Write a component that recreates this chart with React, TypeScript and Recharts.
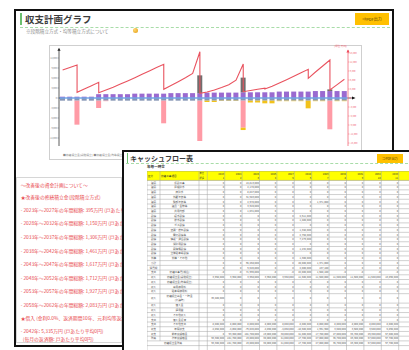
import React from "react"
import { ComposedChart, Bar, Line, XAxis, YAxis, ReferenceLine } from "recharts"

const FONT = '"Noto Sans CJK JP", "Noto Sans", sans-serif'

/* 計画期間 2023〜2062 */
const years = [
  "2023", "2024", "2025", "2026", "2027", "2028", "2029", "2030", "2031", "2032",
  "2033", "2034", "2035", "2036", "2037", "2038", "2039", "2040", "2041", "2042",
  "2043", "2044", "2045", "2046", "2047", "2048", "2049", "2050", "2051", "2052",
  "2053", "2054", "2055", "2056", "2057", "2058", "2059", "2060", "2061", "2062",
]

/* 単位: 万円 */
const reserveIncome = [
  395, 395, 395, 395, 395, 1150, 1150, 1150, 1150, 1150,
  1306, 1306, 1306, 1306, 1306, 1461, 1461, 1461, 1461, 1461,
  1617, 1617, 1617, 1617, 1617, 1712, 1712, 1712, 1712, 1712,
  1927, 1927, 1927, 1927, 1927, 2083, 2083, 2083, 2083, 2083,
]
const loanIncome = [
  0, 0, 0, 0, 0, 0, 0, 0, 0, 0,
  0, 0, 0, 0, 0, 0, 0, 0, 0, 5335,
  0, 0, 0, 0, 0, 4400, 0, 0, 0, 0,
  0, 0, 0, 0, 0, 0, 0, 500, 0, 0,
]
const upkeepCost = [
  -800, -800, -800, -800, -800, -800, -800, -800, -800, -800,
  -800, -800, -800, -800, -800, -800, -800, -800, -800, -800,
  -800, -800, -800, -800, -800, -800, -800, -800, -800, -800,
  -800, -800, -800, -800, -800, -800, -800, -800, -800, -800,
]
const repairCost = [
  0, 0, -7199.5, 0, 0, -2200, -150.81, 0, 0, 0,
  0, 0, 0, 0, -6790, 0, 0, 0, 0, -12100,
  0, 0, 0, 0, 0, -8110, 0, 0, 0, 0,
  0, 0, 0, 0, 0, 0, 0, -8590, 0, 0,
]
const extraCost = [
  0, 0, 0, 0, 0, 0, 0, 0, 0, 0,
  0, 0, 0, 0, 0, 0, 0, 0, 0, 0,
  -400, -400, -100, -100, -100, -700, -550, -550, -800, -800,
  -150, -150, -150, -150, -2300, -150, -150, 0, -150, -150,
]

/* 残高: 年度末と、工事費支出前の山 */
const yearEndBalance = [
  9330, 10170, 1900, 3000, 4100, 1770, 2700, 3570, 4630, 5700,
  6770, 7900, 9000, 10130, 2900, 4170, 5430, 6730, 8170, 1570,
  2000, 2670, 3500, 4430, 5930, 2100, 2500, 2930, 3000, 3900,
  5000, 6100, 7230, 8400, 6570, 8670, 10670, 2670, 4470, 6230,
]
const peakBalance: (number | null)[] = [
  null, null, 11000, null, null, 5230, null, null, null, null,
  null, null, null, null, 11230, null, null, null, null, 15430,
  null, null, null, null, null, 11330, null, null, 3300, null,
  null, null, null, null, 9570, null, null, 12670, null, null,
]

const leftTicks = [-12000, -9000, -6000, -3000, 0, 3000, 6000, 9000, 12000]
const rightTicks = [-15000, -12000, -9000, -6000, -3000, 0, 3000, 6000, 9000, 12000, 15000]

const fmt = (n: number) => Math.round(n).toLocaleString("en-US")
const yen = (man: number) => fmt(man * 10000)

const chartData = years.map((year, i) => ({
  year,
  reserve: reserveIncome[i],
  loan: loanIncome[i],
  upkeep: upkeepCost[i],
  repair: repairCost[i],
  extra: extraCost[i],
}))

// 支出のある年は同じ x に2点置いて縦に落とす
const balanceData = years.flatMap((_, i) => {
  const peak = peakBalance[i]
  const end = { t: i, bal: yearEndBalance[i] }
  return peak == null ? [end] : [{ t: i, bal: peak }, end]
})

/* 資金計画メモ */
const planPeriods = [0, 5, 10, 15, 20, 25, 30, 35]
const loanYear = 19
const noteLines = [
  "〜改善後の資金計画について〜",
  "★改善後の修繕積立金(段階積立方式)",
  ...planPeriods.map(
    (p) => `- ${years[p]}年〜${years[p + 4]}年の年間総額: ${fmt(reserveIncome[p])}万円 (戸あたり月平均`
  ),
  "★借入 (金利0.0%、返済期間10年、元利均等返済)",
  `- ${years[loanYear]}年: ${fmt(loanIncome[loanYear])}万円 (戸あたり平均0円)`,
  "  (毎月の返済額: 戸あたり平均0円)",
]
const noteY = [185, 196.7, 210, 223.3, 236.7, 250.5, 264, 277.7, 291.3, 305, 318.3, 331, 338.6]

/* キャッシュフロー表 */
const tableYears = years.slice(0, 11)
const zeroRow = "0|0|0|0|0|0|0|0|0|0|0"
const cfGroups = [
  "建築", "建築", "建築", "建築", "建築", "建築", "建築",
  "設備", "設備", "設備", "設備", "設備", "設備", "設備", "設備", "設備", "外構",
  "小計", "消費税", "支出",
  "収入", "収入", "収入", "収入", "収入", "収入", "収入", "収入",
  "支出", "支出", "収支", "収支", "残高", "",
]
const cfItems = [
  "仮設工事", "屋根防水", "床防水", "外壁塗装等", "鉄部塗装等", "建具・金物等", "共用内部",
  "給水設備", "排水設備", "ガス設備", "空調・換気設備", "電灯設備等", "情報・通信設備",
  "消防用設備", "昇降機設備", "立体駐車場設備", "外構・その他",
  "", "", "修繕工事費(税込)",
  "修繕積立金(段階積立)", "修繕積立金(均等積立)", "専用使用料", "駐車場使用料",
  "修繕積立基金・一時金(分譲時)", "借入金", "運用益", "その他収入",
  "借入金返済", "その他支出", "年間収支", "前年度繰越金", "次年度繰越金",
  "修繕積立金残高",
]
const cfLiteral: Record<number, string> = {
  0: "0|0|14,813,000|0|0|0|0|0|0|0|0",
  1: "0|0|2,178,000|0|0|0|0|0|0|0|0",
  2: "0|0|8,847,000|0|0|0|0|0|0|0|0",
  3: "0|0|31,683,000|0|0|0|0|0|0|0|0",
  4: "0|0|2,978,000|0|0|0|1,371,000|0|0|0|0",
  5: "0|0|3,920,000|0|0|0|0|0|0|0|0",
  6: "0|0|1,031,000|0|0|0|0|0|0|0|0",
  7: "0|0|0|0|0|4,611,000|0|0|0|0|0",
  8: "0|0|0|0|0|1,480,000|0|0|0|0|0",
  9: zeroRow,
  10: "0|0|0|0|0|1,348,000|0|0|0|0|0",
  11: "0|0|0|0|0|2,750,000|0|0|0|0|0",
  12: "0|0|0|0|0|7,279,000|0|0|0|0|0",
  13: zeroRow,
  14: "0|0|0|0|0|1,232,000|0|0|0|0|0",
  15: zeroRow,
  16: "0|0|0|0|0|1,300,000|0|0|0|0|0",
  17: "0|0|65,450,000|0|0|20,000,000|1,371,000|0|0|0|0",
  18: "0|0|6,545,000|0|0|2,000,000|137,100|0|0|0|0",
  21: zeroRow,
  22: zeroRow,
  23: zeroRow,
  24: "36,480,000|0|0|0|0|0|0|0|0|0|0",
  26: zeroRow,
  27: zeroRow,
  28: zeroRow,
}
const cfBuilt: Record<number, string[]> = {
  19: tableYears.map((_, i) => yen(-repairCost[i])),
  20: tableYears.map((_, i) => yen(reserveIncome[i])),
  25: tableYears.map((_, i) => yen(loanIncome[i])),
  29: tableYears.map((_, i) => yen(-(upkeepCost[i] + extraCost[i]))),
  30: tableYears.map((_, i) =>
    yen(reserveIncome[i] + loanIncome[i] + upkeepCost[i] + repairCost[i] + extraCost[i])
  ),
  31: tableYears.map((_, i) => (i === 0 ? "0" : yen(yearEndBalance[i - 1]))),
  32: tableYears.map((_, i) => yen(yearEndBalance[i])),
  33: tableYears.map((_, i) => yen(yearEndBalance[i])),
}
const cfRowValues = cfItems.map((_, r) => cfBuilt[r] ?? (cfLiteral[r] ?? zeroRow).split("|"))

function LeftArrow(props: any) {
  const { x, y, width } = props.viewBox
  const ax = x + width
  return <path d={`M${ax - 1.6},${y + 0.8} L${ax},${y - 2.2} L${ax + 1.6},${y + 0.8} Z`} fill="#222" />
}

function RightArrow(props: any) {
  const { x, y } = props.viewBox
  return <path d={`M${x - 1.6},${y + 2.5} L${x},${y - 0.5} L${x + 1.6},${y + 2.5} Z`} fill="#ee4a5a" />
}

function ZeroArrow(props: any) {
  const { x, y, width } = props.viewBox
  const ex = x + width
  return (
    <g>
      <line x1={ex} y1={y} x2={ex + 5} y2={y} stroke="#444" strokeWidth={0.8} />
      <path d={`M${ex + 4},${y - 1.6} L${ex + 7.5},${y} L${ex + 4},${y + 1.6} Z`} fill="#111" />
    </g>
  )
}

function BalanceChart() {
  return (
    <ComposedChart
      width={313}
      height={115}
      data={chartData}
      stackOffset="sign"
      margin={{ top: 5, right: 0, bottom: 14, left: 0 }}
    >
      <XAxis xAxisId="cat" dataKey="year" hide />
      <XAxis xAxisId="num" dataKey="t" type="number" domain={[-0.5, 39.5]} allowDataOverflow hide />
      <YAxis
        yAxisId="left"
        width={10}
        domain={[-14400, 14400]}
        ticks={leftTicks}
        interval={0}
        allowDataOverflow
        tickFormatter={fmt}
        tick={{ fontSize: 2.2, fill: "#777", fontFamily: FONT }}
        tickSize={1.5}
        tickMargin={0.6}
        axisLine={{ stroke: "#333", strokeWidth: 0.8 }}
        tickLine={{ stroke: "#666", strokeWidth: 0.5 }}
        label={LeftArrow}
      />
      <YAxis
        yAxisId="right"
        orientation="right"
        width={14}
        domain={[-16000, 16000]}
        ticks={rightTicks}
        interval={0}
        allowDataOverflow
        tickFormatter={fmt}
        tick={{ fontSize: 2.2, fill: "#f06070", fontFamily: FONT }}
        tickSize={1.5}
        tickMargin={0.6}
        axisLine={{ stroke: "#f36a78", strokeWidth: 0.8 }}
        tickLine={{ stroke: "#f36a78", strokeWidth: 0.5 }}
        label={RightArrow}
      />

      <Bar xAxisId="cat" yAxisId="left" dataKey="reserve" stackId="s" fill="#9a6ad0" barSize={5} isAnimationActive={false} />
      <Bar xAxisId="cat" yAxisId="left" dataKey="loan" stackId="s" fill="#6f6f6f" barSize={5} isAnimationActive={false} />
      <Bar xAxisId="cat" yAxisId="left" dataKey="upkeep" stackId="s" fill="#8595b5" barSize={5} isAnimationActive={false} />
      <Bar xAxisId="cat" yAxisId="left" dataKey="repair" stackId="s" fill="#ff9ba6" barSize={5} isAnimationActive={false} />
      <Bar xAxisId="cat" yAxisId="left" dataKey="extra" stackId="s" fill="#f2c21b" barSize={5} isAnimationActive={false} />

      <ReferenceLine xAxisId="cat" yAxisId="left" y={0} stroke="#72a5e6" strokeWidth={1.6} label={ZeroArrow} />

      <Line
        xAxisId="num"
        yAxisId="right"
        data={balanceData}
        dataKey="bal"
        type="linear"
        stroke="#e9535f"
        strokeWidth={1.1}
        dot={false}
        isAnimationActive={false}
      />
    </ComposedChart>
  )
}

/* 表のレイアウト (svg 内座標) */
const fixedCols = [13, 39, 8.3]
const yearColW = 17.4
const headRowH = 4.7
const rowH = 4.72
const tableW = 262
const tableH = 185

function CashFlowTable() {
  const colX: number[] = [0]
  fixedCols.forEach((w) => colX.push(colX[colX.length - 1] + w))
  tableYears.forEach(() => colX.push(colX[colX.length - 1] + yearColW))
  const rowTops: number[] = []
  let y = headRowH * 2
  cfItems.forEach((_, r) => {
    rowTops.push(y)
    y += r === 24 ? rowH * 2 : rowH
  })
  const lastLine = y + rowH
  const txt = { fontSize: 2.6, fontFamily: FONT }

  return (
    <svg width={tableW} height={tableH} style={{ display: "block", overflow: "hidden" }}>
      <rect x={0} y={0} width={tableW} height={headRowH * 2} fill="#ffff00" />
      <text x={colX[0] + 1} y={headRowH + 1} fill="#333" {...txt}>区分</text>
      <text x={colX[1] + 1} y={headRowH + 1} fill="#333" {...txt}>修繕工事項目</text>
      <text x={colX[2] + 0.5} y={3.4} fill="#333" {...txt} fontSize={2.2}>年度</text>
      <text x={colX[2] + 0.5} y={8.1} fill="#333" {...txt} fontSize={2.2}>経過</text>
      {tableYears.map((yr, i) => (
        <g key={yr}>
          <text x={colX[i + 4] - 0.6} y={3.6} textAnchor="end" fill="#333" {...txt}>{yr}</text>
          <text x={colX[i + 4] - 0.6} y={8.3} textAnchor="end" fill="#333" {...txt}>{i + 1}</text>
        </g>
      ))}

      {cfItems.map((item, r) => {
        const top = rowTops[r]
        const h = r === 24 ? rowH * 2 : rowH
        const mid = top + h / 2 + 0.9
        const merged = r >= 33
        return (
          <g key={r}>
            {merged ? (
              <text x={(colX[0] + colX[2]) / 2} y={mid} textAnchor="middle" fill="#555" {...txt}>{item}</text>
            ) : (
              <>
                <text x={(colX[0] + colX[1]) / 2} y={mid} textAnchor="middle" fill="#555" {...txt}>{cfGroups[r]}</text>
                {r === 24 ? (
                  <>
                    <text x={(colX[1] + colX[2]) / 2} y={top + 3.4} textAnchor="middle" fill="#555" {...txt}>修繕積立基金・一時金</text>
                    <text x={(colX[1] + colX[2]) / 2} y={top + 7.4} textAnchor="middle" fill="#555" {...txt}>(分譲時)</text>
                  </>
                ) : (
                  <text x={(colX[1] + colX[2]) / 2} y={mid} textAnchor="middle" fill="#555" {...txt}>{item}</text>
                )}
              </>
            )}
            {cfRowValues[r].map((v, c) => (
              <text key={c} x={colX[c + 4] - 0.6} y={mid} textAnchor="end" fill="#555" {...txt}>{v}</text>
            ))}
            <line x1={0} x2={tableW} y1={top + h} y2={top + h} stroke="#a0a0a0" strokeWidth={0.5} />
          </g>
        )
      })}
      <line x1={0} x2={tableW} y1={lastLine} y2={lastLine} stroke="#a0a0a0" strokeWidth={0.5} />

      <line x1={0} x2={tableW} y1={0} y2={0} stroke="#888" strokeWidth={0.6} />
      <line x1={0} x2={tableW} y1={headRowH * 2} y2={headRowH * 2} stroke="#888" strokeWidth={0.5} />
      {colX.map((x, c) => (
        <line
          key={c}
          x1={x}
          x2={x}
          y1={0}
          y2={c === 1 ? rowTops[33] : tableH}
          stroke="#a0a0a0"
          strokeWidth={0.5}
        />
      ))}
    </svg>
  )
}

export default function App() {
  return (
    <div
      style={{
        position: "absolute",
        left: 0,
        top: 0,
        width: 409,
        height: 350,
        overflow: "hidden",
        background: "#fff",
        fontFamily: FONT,
      }}
    >
      {/* 収支計画グラフ */}
      <div style={{ position: "absolute", left: 14, top: 9, width: 380, height: 338, border: "2px solid #111", boxSizing: "border-box" }} />
      <div style={{ position: "absolute", left: 20, top: 13, height: 12, borderLeft: "2px solid #6cc070" }} />
      <div style={{ position: "absolute", left: 25, top: 12.5, fontSize: 9.5, lineHeight: "12px", fontWeight: 700, color: "#3c3c3c", whiteSpace: "nowrap" }}>
        収支計画グラフ
      </div>
      <div style={{ position: "absolute", left: 20, top: 26.5, width: 370, borderTop: "1px dashed #a8dca8" }} />
      <div
        style={{
          position: "absolute", left: 355, top: 13, width: 34, height: 12, background: "#ffc000",
          fontSize: 4, lineHeight: "12px", textAlign: "center", color: "#5a4000",
        }}
      >
        ⇒PDF出力
      </div>
      <div style={{ position: "absolute", left: 26, top: 27.6, fontSize: 4.6, lineHeight: "6px", color: "#8a8a8a", whiteSpace: "nowrap" }}>
        ※段階積立方式・均等積立方式について
      </div>
      <div
        style={{
          position: "absolute", left: 133, top: 28, width: 5, height: 5, borderRadius: "50%",
          background: "radial-gradient(circle at 35% 35%, #ffd870, #e29a10)",
        }}
      />

      {/* グラフ枠 */}
      <div style={{ position: "absolute", left: 49, top: 45, width: 313, height: 115, border: "1px solid #cfcfcf", boxSizing: "border-box" }} />
      <div style={{ position: "absolute", left: 49, top: 45 }}>
        <BalanceChart />
      </div>
      <div style={{ position: "absolute", left: 334, top: 44.8, fontSize: 2.6, lineHeight: "3px", color: "#f06070", whiteSpace: "nowrap" }}>
        (単位:万円)
      </div>
      <div style={{ position: "absolute", left: 63, top: 153.5, fontSize: 2.8, lineHeight: "3px", color: "#8a8a8a", whiteSpace: "nowrap" }}>
        ■修繕積立金(段階積立) ■修繕積立金(均等積立)
      </div>

      {/* 資金計画メモ */}
      <div style={{ position: "absolute", left: 16, top: 177, width: 106, height: 166, border: "1px solid #d6d6d6", boxSizing: "border-box" }} />
      {noteLines.map((line, i) => (
        <div
          key={i}
          style={{
            position: "absolute", left: 20.7, top: noteY[i] - 3, fontSize: 4.8, lineHeight: "6px",
            color: "#e8474c", whiteSpace: "pre",
          }}
        >
          {line}
        </div>
      ))}

      {/* キャッシュフロー表 */}
      <div style={{ position: "absolute", left: 122, top: 150, width: 300, height: 220, background: "#fff", zIndex: 2 }}>
        <div style={{ position: "absolute", left: 0, top: 0, width: 300, height: 220, border: "2px solid #111", boxSizing: "border-box" }} />
        <div style={{ position: "absolute", left: 5, top: 3, height: 9.5, borderLeft: "1.5px solid #6cc070" }} />
        <div style={{ position: "absolute", left: 8, top: 3.5, fontSize: 7, lineHeight: "9px", fontWeight: 700, color: "#3c3c3c", whiteSpace: "nowrap" }}>
          キャッシュフロー表
        </div>
        <div style={{ position: "absolute", left: 4, top: 12.5, width: 282, borderTop: "1px dashed #a8dca8" }} />
        <div
          style={{
            position: "absolute", left: 255, top: 3.5, width: 26, height: 9, background: "#ffc000",
            fontSize: 3.2, lineHeight: "9px", textAlign: "center", color: "#5a4000",
          }}
        >
          ⇒PDF出力
        </div>
        <div style={{ position: "absolute", left: 25, top: 15, fontSize: 3.6, lineHeight: "4px", fontWeight: 700, color: "#444", whiteSpace: "nowrap" }}>
          年毎一時金
        </div>
        <div style={{ position: "absolute", left: 25, top: 21 }}>
          <CashFlowTable />
        </div>
      </div>
    </div>
  )
}
